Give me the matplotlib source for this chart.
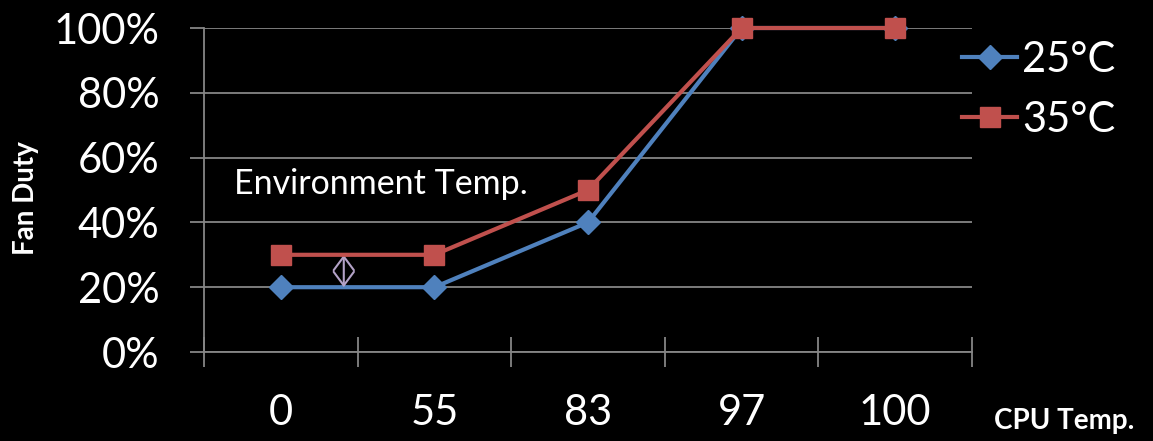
import matplotlib
matplotlib.use('Agg')
import matplotlib.pyplot as plt
from matplotlib.ticker import FixedLocator, PercentFormatter

# ── Data ─────────────────────────────────────────────
CATEGORIES = ['0', '55', '83', '97', '100']
DUTY_25C = [20, 20, 40, 100, 100]
DUTY_35C = [30, 30, 50, 100, 100]
SERIES = ['25°C', '35°C']

BLUE = '#4F81BD'
RED = '#C0504D'
GRID = '#868686'
plt.rcParams['font.family'] = ['Lato', 'DejaVu Sans']

fig = plt.figure(figsize=(11.53, 4.41), dpi=100, facecolor='black')
ax = fig.add_axes([204 / 1153, 1 - 352 / 441, 768 / 1153, 324 / 441], facecolor='black')

x = list(range(len(CATEGORIES)))
ax.plot(x, DUTY_25C, color=BLUE, lw=3, marker='D', ms=12, mec=BLUE,
        label=SERIES[0], clip_on=False, zorder=3)
ax.plot(x, DUTY_35C, color=RED, lw=3, marker='s', ms=14.5, mec=RED,
        label=SERIES[1], clip_on=False, zorder=4)

ax.set_xlim(-0.5, len(CATEGORIES) - 0.5)
ax.set_ylim(0, 100)

# y axis
ax.yaxis.set_major_locator(FixedLocator([0, 20, 40, 60, 80, 100]))
ax.yaxis.set_major_formatter(PercentFormatter(decimals=0))
ax.tick_params(axis='y', direction='out', length=10, width=1.3, color=GRID,
               labelcolor='white', labelsize=30, pad=22)
ax.grid(axis='y', color=GRID, lw=1.3)

# x axis: boundary ticks, labels at category centres
ax.xaxis.set_major_locator(FixedLocator([i - 0.5 for i in range(len(CATEGORIES) + 1)]))
ax.xaxis.set_major_formatter(plt.NullFormatter())
ax.xaxis.set_minor_locator(FixedLocator(x))
ax.xaxis.set_minor_formatter(plt.FixedFormatter(CATEGORIES))
ax.tick_params(axis='x', which='major', direction='inout', length=22, width=1.3, color=GRID)
ax.tick_params(axis='x', which='minor', length=0, labelcolor='white', labelsize=30, pad=30)

for side in ['top', 'right']:
    ax.spines[side].set_visible(False)
for side in ['left', 'bottom']:
    ax.spines[side].set_color(GRID)
    ax.spines[side].set_linewidth(1.3)

fig.text(26 / 1153, 1 - 198 / 441, 'Fan Duty', rotation=90, color='white',
         fontsize=20, fontweight='bold', ha='center', va='center')
fig.text(994 / 1153, 1 - 421 / 441, 'CPU Temp.', color='white',
         fontsize=20, fontweight='bold', ha='left', va='center')

ax.text(-0.305, 52, 'Environment Temp.', color='white', fontsize=24.5,
        ha='left', va='center')
ax.annotate('', xy=(0.41, 30), xytext=(0.41, 20),
            arrowprops=dict(arrowstyle='<->, head_length=0.35, head_width=0.26',
                            color='#B3A2C7', lw=1.5,
                            mutation_scale=28, shrinkA=0, shrinkB=0))

leg = ax.legend(loc='upper left', bbox_to_anchor=(962 / 1153, 1 - 41 / 441),
                bbox_transform=fig.transFigure, frameon=False,
                fontsize=30, labelcolor='white', handlelength=1.32,
                handletextpad=0.12, labelspacing=0.53, borderpad=0, borderaxespad=0)

plt.savefig('out.png', dpi=100, facecolor='black')
